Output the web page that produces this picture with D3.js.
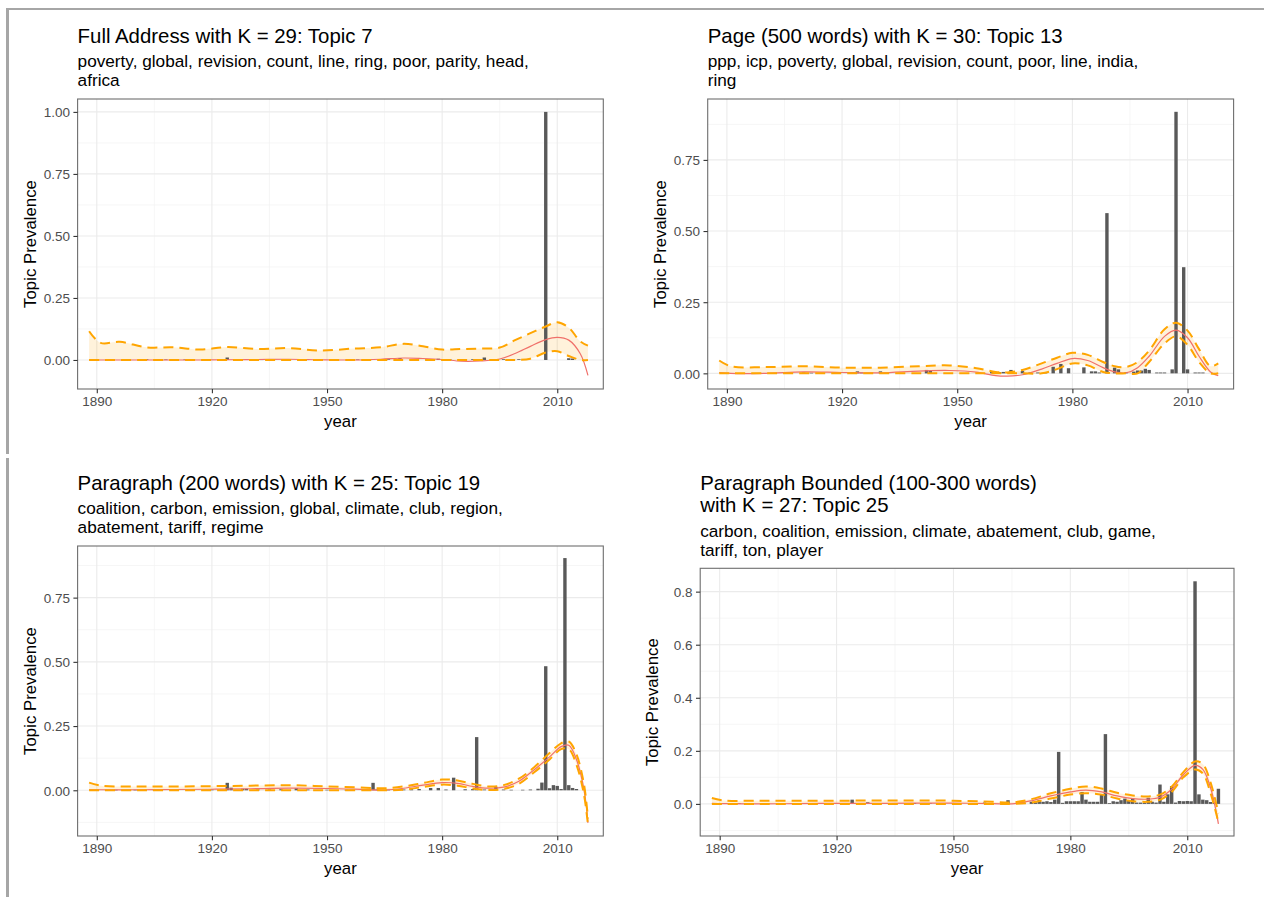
<!DOCTYPE html>
<html>
<head>
<meta charset="utf-8">
<script src="https://cdn.jsdelivr.net/npm/d3@7"></script>
<style>
  body { margin: 0; background: #fff; }
  svg { font-family: "Liberation Sans", Arial, sans-serif; }
  .grid-major { stroke: #ebebeb; stroke-width: 1.1; }
  .grid-minor { stroke: #f2f2f2; stroke-width: 0.7; }
  .tick-lab { fill: #4d4d4d; font-size: 13.5px; }
</style>
</head>
<body>
<svg id="chart" width="1264" height="897"></svg>
<script>
// ---- data ----
var xTickYears = [1890, 1920, 1950, 1980, 2010];
var xMinorYears = [1905, 1935, 1965, 1995];

// panel 1: Full Address, K = 29, topic 7
var p1Title = ["Full Address with K = 29: Topic 7"];
var p1Words = ["poverty, global, revision, count, line, ring, poor, parity, head,", "africa"];
var p1Years = [1893, 1897, 1903, 1908, 1913, 1918, 1922, 1924, 1927, 1930, 1933, 1936, 1940, 1945, 1948, 1958, 1962, 1966, 1969, 1972, 1976, 1979, 1982, 1985, 1988, 1991, 1994, 1996, 1998, 2000, 2002, 2007, 2013, 2014];
var p1Values = [0.002, 0.002, 0.003, 0.002, 0.002, 0.003, 0.002, 0.01, 0.003, 0.003, 0.002, 0.003, 0.003, 0.002, 0.002, 0.002, 0.003, 0.003, 0.008, 0.003, 0.002, 0.005, 0.003, 0.002, 0.003, 0.01, 0.003, 0.003, 0.003, 0.003, 0.003, 1.0, 0.007, 0.006];
var p1SmoothYears = [1888, 1891, 1896, 1903, 1910, 1917, 1924, 1932, 1940, 1948, 1957, 1964, 1970, 1975, 1980, 1985, 1990, 1995, 1999, 2003, 2007, 2010, 2013, 2016, 2018];
var p1Fit = [0, 0, 0, 0, 0, 0, 0.001, 0.002, 0.003, 0.001, 0, 0.003, 0.008, 0.006, 0.002, -0.005, -0.004, 0.004, 0.026, 0.055, 0.082, 0.091, 0.08, 0.025, -0.062];
var p1Upper = [0.116, 0.069, 0.073, 0.051, 0.051, 0.042, 0.052, 0.044, 0.048, 0.038, 0.046, 0.051, 0.065, 0.055, 0.042, 0.044, 0.046, 0.05, 0.08, 0.108, 0.135, 0.152, 0.13, 0.075, 0.058];
var p1Lower = [0, 0, 0, 0, 0, 0, 0, 0, 0, 0, 0, 0, 0, 0, 0, 0, 0, 0, 0, 0.005, 0.03, 0.035, 0.016, 0, 0];

// panel 2: Page (500 words), K = 30, topic 13
var p2Title = ["Page (500 words) with K = 30: Topic 13"];
var p2Words = ["ppp, icp, poverty, global, revision, count, poor, line, india,", "ring"];
var p2Years = [1910, 1912, 1918, 1924, 1925, 1930, 1942, 1943, 1959, 1961, 1962, 1964, 1967, 1969, 1971, 1973, 1975, 1977, 1979, 1983, 1985, 1986, 1987, 1989, 1991, 1992, 1994, 1996, 1997, 1998, 1999, 2000, 2002, 2003, 2004, 2006, 2007, 2009, 2010, 2012, 2013, 2014];
var p2Values = [0.003, 0.002, 0.002, 0.007, 0.003, 0.007, 0.012, 0.009, 0.008, 0.004, 0.005, 0.012, 0.008, 0.003, 0.003, 0.003, 0.023, 0.033, 0.018, 0.021, 0.007, 0.007, 0.003, 0.563, 0.02, 0.014, 0.004, 0.006, 0.01, 0.01, 0.016, 0.012, 0.003, 0.003, 0.003, 0.014, 0.919, 0.373, 0.014, 0.003, 0.003, 0.003];
var p2SmoothYears = [1888, 1891, 1900, 1910, 1920, 1930, 1940, 1948, 1955, 1960, 1963, 1967, 1972, 1976, 1980, 1984, 1988, 1991, 1994, 1997, 2000, 2004, 2007, 2010, 2013, 2016, 2018];
var p2Fit = [0.003, 0, 0, 0.005, 0.003, 0.002, 0.008, 0.01, 0.004, -0.008, -0.01, -0.005, 0.015, 0.035, 0.052, 0.045, 0.02, 0.005, 0.002, 0.02, 0.06, 0.13, 0.152, 0.125, 0.06, 0.005, -0.008];
var p2Upper = [0.045, 0.025, 0.022, 0.025, 0.02, 0.02, 0.025, 0.028, 0.018, 0.005, 0.003, 0.012, 0.035, 0.055, 0.072, 0.065, 0.04, 0.025, 0.022, 0.04, 0.08, 0.155, 0.178, 0.15, 0.085, 0.025, 0.035];
var p2Lower = [0, 0, 0, 0, 0, 0, 0, 0, 0, 0, 0, 0, 0, 0.015, 0.035, 0.028, 0.005, 0, 0, 0, 0.04, 0.105, 0.13, 0.1, 0.04, 0, 0];

// panel 3: Paragraph (200 words), K = 25, topic 19
var p3Title = ["Paragraph (200 words) with K = 25: Topic 19"];
var p3Words = ["coalition, carbon, emission, global, climate, club, region,", "abatement, tariff, regime"];
var p3Years = [1895, 1900, 1905, 1910, 1915, 1920, 1924, 1925, 1928, 1929, 1932, 1935, 1938, 1942, 1945, 1950, 1955, 1962, 1963, 1966, 1970, 1972, 1974, 1977, 1979, 1981, 1983, 1986, 1988, 1989, 1991, 1994, 1996, 1998, 2001, 2003, 2005, 2006, 2007, 2008, 2009, 2010, 2011, 2012, 2013, 2014, 2015];
var p3Values = [0.002, 0.002, 0.003, 0.002, 0.002, 0.003, 0.029, 0.01, 0.006, 0.006, 0.003, 0.003, 0.004, 0.008, 0.003, 0.002, 0.002, 0.029, 0.003, 0.002, 0.003, 0.004, 0.005, 0.009, 0.009, 0.003, 0.049, 0.004, 0.005, 0.207, 0.003, 0.013, 0.003, 0.002, 0.002, 0.003, 0.006, 0.03, 0.483, 0.008, 0.02, 0.017, 0.005, 0.904, 0.02, 0.009, 0.005];
var p3SmoothYears = [1888, 1891, 1900, 1910, 1920, 1930, 1940, 1950, 1960, 1965, 1970, 1975, 1980, 1984, 1988, 1992, 1996, 2000, 2004, 2008, 2011, 2013, 2015, 2017, 2018];
var p3Fit = [0.002, 0.002, 0.002, 0.003, 0.004, 0.006, 0.008, 0.007, 0.003, 0.001, 0.008, 0.02, 0.03, 0.027, 0.015, 0.008, 0.012, 0.035, 0.08, 0.13, 0.17, 0.175, 0.12, 0.0, -0.127];
var p3Upper = [0.03, 0.018, 0.015, 0.015, 0.016, 0.018, 0.02, 0.015, 0.01, 0.008, 0.015, 0.028, 0.042, 0.038, 0.025, 0.015, 0.02, 0.045, 0.09, 0.145, 0.183, 0.19, 0.14, 0.02, -0.11];
var p3Lower = [0, 0, 0, 0, 0, 0, 0, 0, 0, 0, 0.002, 0.013, 0.022, 0.018, 0.007, 0.001, 0.005, 0.025, 0.07, 0.12, 0.16, 0.16, 0.1, -0.02, -0.135];

// panel 4: Paragraph Bounded (100-300 words), K = 27, topic 25
var p4Title = ["Paragraph Bounded (100-300 words)", "with K = 27: Topic 25"];
var p4Words = ["carbon, coalition, emission, climate, abatement, club, game,", "tariff, ton, player"];
var p4Years = [1890, 1895, 1902, 1905, 1910, 1915, 1919, 1924, 1926, 1928, 1930, 1935, 1940, 1944, 1950, 1955, 1958, 1964, 1966, 1968, 1970, 1971, 1972, 1973, 1974, 1975, 1976, 1977, 1978, 1979, 1980, 1981, 1982, 1983, 1984, 1985, 1986, 1987, 1988, 1989, 1990, 1991, 1992, 1993, 1994, 1995, 1996, 1997, 1998, 1999, 2000, 2001, 2002, 2003, 2004, 2005, 2006, 2007, 2008, 2009, 2010, 2011, 2012, 2013, 2014, 2015, 2016, 2017, 2018];
var p4Values = [0.002, 0.002, 0.003, 0.002, 0.003, 0.002, 0.003, 0.016, 0.002, 0.006, 0.002, 0.003, 0.003, 0.002, 0.002, 0.003, 0.005, 0.014, 0.003, 0.005, 0.008, 0.006, 0.014, 0.008, 0.01, 0.007, 0.016, 0.196, 0.004, 0.01, 0.01, 0.01, 0.01, 0.045, 0.016, 0.008, 0.008, 0.008, 0.036, 0.263, 0.003, 0.01, 0.008, 0.014, 0.02, 0.012, 0.02, 0.005, 0.005, 0.004, 0.023, 0.008, 0.005, 0.073, 0.008, 0.036, 0.067, 0.005, 0.011, 0.01, 0.011, 0.01, 0.839, 0.036, 0.016, 0.014, 0.007, 0.004, 0.057];
var p4SmoothYears = [1888, 1891, 1900, 1910, 1920, 1930, 1940, 1950, 1960, 1965, 1970, 1975, 1980, 1984, 1988, 1992, 1996, 2000, 2003, 2006, 2009, 2012, 2014, 2016, 2018];
var p4Fit = [0.002, 0.001, 0, 0.001, 0.002, 0.002, 0.003, 0.003, 0.001, 0, 0.012, 0.03, 0.045, 0.052, 0.045, 0.03, 0.02, 0.018, 0.025, 0.055, 0.11, 0.145, 0.13, 0.06, -0.075];
var p4Upper = [0.022, 0.013, 0.012, 0.012, 0.012, 0.013, 0.013, 0.012, 0.008, 0.006, 0.018, 0.04, 0.057, 0.066, 0.058, 0.042, 0.032, 0.028, 0.035, 0.065, 0.12, 0.16, 0.15, 0.08, -0.035];
var p4Lower = [0, 0, 0, 0, 0, 0, 0, 0, 0, 0, 0.005, 0.02, 0.035, 0.04, 0.035, 0.02, 0.01, 0.008, 0.015, 0.045, 0.1, 0.13, 0.115, 0.04, -0.07];

var svg = d3.select("#chart");

// frame of the page around the figure
svg.append("line").attr("x1", 6).attr("x2", 1264).attr("y1", 9).attr("y2", 9)
  .attr("stroke", "#a6a6a6").attr("stroke-width", 2);
svg.append("line").attr("x1", 7.5).attr("x2", 7.5).attr("y1", 8).attr("y2", 454)
  .attr("stroke", "#a6a6a6").attr("stroke-width", 3);
svg.append("line").attr("x1", 7.5).attr("x2", 7.5).attr("y1", 458).attr("y2", 897)
  .attr("stroke", "#a6a6a6").attr("stroke-width", 3);

function zip(years, vals) {
  return years.map(function(y, i) { return { year: y, v: vals[i] }; });
}

function drawPanel(p, idx) {
  var g = svg.append("g");
  var w = p.right - p.left, h = p.bottom - p.top;

  var x = d3.scaleLinear().domain([1885, 2022]).range([p.left, p.right]);
  var y = d3.scaleLinear().domain(p.yDomain).range([p.bottom, p.top]);

  // title + subtitle
  p.title.forEach(function(t, i) {
    g.append("text").attr("x", p.left).attr("y", p.titleY + i * 21.7)
      .attr("font-size", "20.4px").attr("fill", "#000").text(t);
  });
  p.words.forEach(function(t, i) {
    g.append("text").attr("x", p.left).attr("y", p.subY + i * 18.8)
      .attr("font-size", "17.2px").attr("fill", "#000").text(t);
  });

  // grid
  var minorY = [];
  for (var k = 0; k < p.yTicks.length; k++) {
    minorY.push(p.yTicks[k] - p.yStep / 2);
  }
  minorY.push(p.yTicks[p.yTicks.length - 1] + p.yStep / 2);
  minorY = minorY.filter(function(v) { return v > p.yDomain[0] && v < p.yDomain[1]; });

  g.selectAll(".gmy").data(minorY).enter().append("line").attr("class", "grid-minor")
    .attr("x1", p.left).attr("x2", p.right)
    .attr("y1", function(d) { return y(d); }).attr("y2", function(d) { return y(d); });
  g.selectAll(".gmx").data(xMinorYears).enter().append("line").attr("class", "grid-minor")
    .attr("y1", p.top).attr("y2", p.bottom)
    .attr("x1", function(d) { return x(d); }).attr("x2", function(d) { return x(d); });
  g.selectAll(".gMy").data(p.yTicks).enter().append("line").attr("class", "grid-major")
    .attr("x1", p.left).attr("x2", p.right)
    .attr("y1", function(d) { return y(d); }).attr("y2", function(d) { return y(d); });
  g.selectAll(".gMx").data(xTickYears).enter().append("line").attr("class", "grid-major")
    .attr("y1", p.top).attr("y2", p.bottom)
    .attr("x1", function(d) { return x(d); }).attr("x2", function(d) { return x(d); });

  var clipId = "clip" + idx;
  svg.append("clipPath").attr("id", clipId).append("rect")
    .attr("x", p.left).attr("y", p.top).attr("width", w).attr("height", h);
  var plot = g.append("g").attr("clip-path", "url(#" + clipId + ")");

  var sm = p.smoothYears.map(function(yr, i) {
    return { year: yr, fit: p.fit[i], up: p.upper[i], lo: p.lower[i] };
  });
  var curve = d3.curveCatmullRom.alpha(0.5);

  plot.append("path").datum(sm)
    .attr("fill", "orange").attr("fill-opacity", 0.14)
    .attr("d", d3.area().curve(curve)
      .x(function(d) { return x(d.year); })
      .y0(function(d) { return y(d.lo); })
      .y1(function(d) { return y(d.up); }));

  // bars
  var bw = x(1.88) - x(1);
  plot.selectAll(".bar").data(zip(p.years, p.values)).enter().append("rect")
    .attr("fill", "#595959")
    .attr("x", function(d) { return x(d.year) - bw / 2; })
    .attr("width", bw)
    .attr("y", function(d) { return y(d.v); })
    .attr("height", function(d) { return Math.max(0.6, y(0) - y(d.v)); });

  plot.append("path").datum(sm)
    .attr("fill", "none").attr("stroke", "#f0706a").attr("stroke-width", 1.2)
    .attr("d", d3.line().curve(curve)
      .x(function(d) { return x(d.year); })
      .y(function(d) { return y(d.fit); }));

  ["up", "lo"].forEach(function(key) {
    plot.append("path").datum(sm)
      .attr("fill", "none").attr("stroke", "#ffa500").attr("stroke-width", 2)
      .attr("stroke-dasharray", "10,6")
      .attr("d", d3.line().curve(curve)
        .x(function(d) { return x(d.year); })
        .y(function(d) { return y(d[key]); }));
  });

  // panel border
  g.append("rect").attr("x", p.left).attr("y", p.top).attr("width", w).attr("height", h)
    .attr("fill", "none").attr("stroke", "#6e6e6e").attr("stroke-width", 1.1);

  // axes
  var xAxis = g.append("g").attr("transform", "translate(0," + p.bottom + ")")
    .call(d3.axisBottom(x).tickValues(xTickYears).tickFormat(d3.format("d")).tickSizeOuter(0).tickSize(4.2).tickPadding(3.6));
  var yAxis = g.append("g").attr("transform", "translate(" + p.left + ",0)")
    .call(d3.axisLeft(y).tickValues(p.yTicks).tickFormat(d3.format(p.fmt)).tickSizeOuter(0).tickSize(4.2).tickPadding(3.4));
  [xAxis, yAxis].forEach(function(a) {
    a.select(".domain").remove();
    a.selectAll(".tick line").attr("stroke", "#333").attr("stroke-width", 1.1);
    a.selectAll(".tick text").attr("class", "tick-lab").attr("font-family", null).attr("font-size", null);
  });
  yAxis.selectAll(".tick text").attr("dy", "0.36em");

  g.append("text").attr("x", (p.left + p.right) / 2).attr("y", p.bottom + 37.5)
    .attr("text-anchor", "middle").attr("font-size", "16.8px").attr("fill", "#000").text("year");
  g.append("text")
    .attr("transform", "translate(" + (p.left - 42) + "," + ((p.top + p.bottom) / 2) + ") rotate(-90)")
    .attr("text-anchor", "middle").attr("font-size", "16.8px").attr("fill", "#000").text("Topic Prevalence");
}

var panels = [
  { title: p1Title, words: p1Words, years: p1Years, values: p1Values,
    smoothYears: p1SmoothYears, fit: p1Fit, upper: p1Upper, lower: p1Lower,
    left: 77.6, right: 603.3, top: 99, bottom: 389, titleY: 43.3, subY: 66.7,
    yDomain: [-0.117, 1.052], yTicks: [0, 0.25, 0.5, 0.75, 1], yStep: 0.25, fmt: ".2f" },
  { title: p2Title, words: p2Words, years: p2Years, values: p2Values,
    smoothYears: p2SmoothYears, fit: p2Fit, upper: p2Upper, lower: p2Lower,
    left: 707.7, right: 1233.6, top: 99, bottom: 389, titleY: 43.3, subY: 66.7,
    yDomain: [-0.055, 0.964], yTicks: [0, 0.25, 0.5, 0.75], yStep: 0.25, fmt: ".2f" },
  { title: p3Title, words: p3Words, years: p3Years, values: p3Values,
    smoothYears: p3SmoothYears, fit: p3Fit, upper: p3Upper, lower: p3Lower,
    left: 77.6, right: 603.3, top: 546, bottom: 836, titleY: 490, subY: 514.3,
    yDomain: [-0.178, 0.951], yTicks: [0, 0.25, 0.5, 0.75], yStep: 0.25, fmt: ".2f" },
  { title: p4Title, words: p4Words, years: p4Years, values: p4Values,
    smoothYears: p4SmoothYears, fit: p4Fit, upper: p4Upper, lower: p4Lower,
    left: 700.2, right: 1234, top: 568.3, bottom: 836, titleY: 490, subY: 537.3,
    yDomain: [-0.121, 0.888], yTicks: [0, 0.2, 0.4, 0.6, 0.8], yStep: 0.2, fmt: ".1f" }
];

panels.forEach(drawPanel);
</script>
</body>
</html>
